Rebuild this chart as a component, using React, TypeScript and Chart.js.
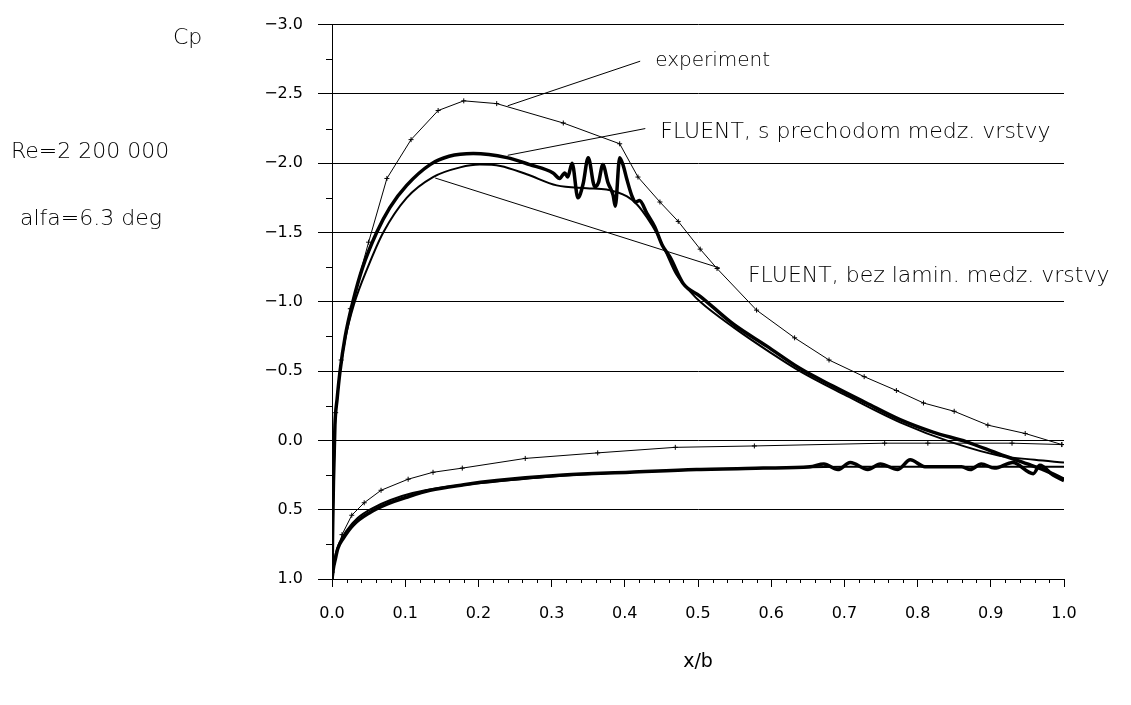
import { useEffect, useRef } from 'react';
import { Chart, registerables } from 'chart.js';

Chart.register(...registerables);

// ---- data (x/b, Cp) ----
const expUpperX = [0.0, 0.005, 0.0125, 0.025, 0.05, 0.075, 0.108, 0.145, 0.18, 0.225, 0.316, 0.393, 0.418, 0.448, 0.473, 0.503, 0.526, 0.58, 0.632, 0.679, 0.727, 0.771, 0.808, 0.85, 0.896, 0.947, 0.997];
const expUpperCp = [0.95, -0.2, -0.58, -0.95, -1.43, -1.89, -2.17, -2.38, -2.45, -2.43, -2.29, -2.14, -1.9, -1.72, -1.58, -1.38, -1.24, -0.94, -0.74, -0.58, -0.46, -0.36, -0.27, -0.21, -0.11, -0.05, 0.03];

const expLowerX = [0.0, 0.0137, 0.027, 0.044, 0.067, 0.104, 0.138, 0.178, 0.264, 0.363, 0.469, 0.577, 0.755, 0.814, 0.929, 0.997];
const expLowerCp = [0.95, 0.68, 0.54, 0.45, 0.36, 0.28, 0.23, 0.2, 0.13, 0.09, 0.05, 0.04, 0.02, 0.02, 0.02, 0.03];

const transUpperX = [0.0, 0.001, 0.002, 0.004, 0.007, 0.011, 0.018, 0.029, 0.042, 0.061, 0.079, 0.102, 0.134, 0.16, 0.193, 0.239, 0.27, 0.302, 0.311, 0.318, 0.322, 0.328, 0.336, 0.343, 0.35, 0.359, 0.364, 0.37, 0.377, 0.384, 0.387, 0.393, 0.398, 0.403, 0.41, 0.415, 0.42, 0.43, 0.441, 0.451, 0.462, 0.48, 0.503, 0.548, 0.594, 0.639, 0.685, 0.73, 0.776, 0.821, 0.867, 0.912, 0.95, 0.98, 1.0];
const transUpperCp = [1.0, 0.6, 0.3, -0.11, -0.3, -0.5, -0.75, -1.01, -1.25, -1.5, -1.68, -1.84, -1.99, -2.05, -2.07, -2.04, -1.99, -1.93, -1.89, -1.93, -1.9, -2.0, -1.75, -1.85, -2.04, -1.83, -1.86, -1.99, -1.86, -1.77, -1.69, -2.04, -1.98, -1.88, -1.76, -1.72, -1.73, -1.64, -1.54, -1.41, -1.32, -1.13, -1.04, -0.84, -0.68, -0.52, -0.39, -0.27, -0.15, -0.06, 0.01, 0.1, 0.17, 0.23, 0.28];

const transLowerX = [0.0, 0.002, 0.004, 0.008, 0.015, 0.029, 0.052, 0.075, 0.102, 0.134, 0.18, 0.225, 0.316, 0.407, 0.498, 0.589, 0.653, 0.672, 0.691, 0.708, 0.732, 0.749, 0.773, 0.79, 0.81, 0.86, 0.872, 0.887, 0.905, 0.93, 0.958, 0.967, 0.985, 1.0];
const transLowerCp = [1.0, 0.92, 0.87, 0.78, 0.71, 0.61, 0.52, 0.46, 0.41, 0.36, 0.32, 0.29, 0.25, 0.23, 0.21, 0.2, 0.19, 0.17, 0.21, 0.16, 0.21, 0.17, 0.21, 0.14, 0.19, 0.19, 0.21, 0.17, 0.2, 0.16, 0.24, 0.18, 0.25, 0.29];

const turbUpperX = [0.0, 0.001, 0.002, 0.004, 0.007, 0.011, 0.018, 0.03, 0.049, 0.07, 0.102, 0.138, 0.175, 0.202, 0.23, 0.266, 0.307, 0.348, 0.375, 0.403, 0.417, 0.43, 0.444, 0.455, 0.47, 0.49, 0.503, 0.55, 0.6, 0.639, 0.7, 0.776, 0.85, 0.912, 0.96, 1.0];
const turbUpperCp = [1.0, 0.6, 0.3, -0.1, -0.3, -0.5, -0.73, -0.98, -1.25, -1.5, -1.75, -1.9, -1.97, -1.99, -1.98, -1.92, -1.84, -1.82, -1.81, -1.76, -1.7, -1.61, -1.49, -1.37, -1.2, -1.07, -1.0, -0.81, -0.63, -0.5, -0.33, -0.13, 0.02, 0.11, 0.14, 0.16];

const turbLowerX = [0.0, 0.002, 0.005, 0.01, 0.02, 0.035, 0.055, 0.08, 0.11, 0.15, 0.2, 0.3, 0.4, 0.5, 0.6, 0.7, 0.8, 0.9, 0.95, 1.0];
const turbLowerCp = [1.0, 0.9, 0.82, 0.74, 0.65, 0.56, 0.49, 0.43, 0.38, 0.34, 0.31, 0.26, 0.23, 0.21, 0.2, 0.19, 0.19, 0.19, 0.19, 0.19];

// leader lines for the annotations
const leaderExpX = [0.24, 0.421];
const leaderExpCp = [-2.414, -2.736];
const leaderTransX = [0.24, 0.428];
const leaderTransCp = [-2.057, -2.25];
const leaderTurbX = [0.141, 0.53];
const leaderTurbCp = [-1.893, -1.243];

const labelExp = 'experiment';
const labelTrans = 'FLUENT, s prechodom medz. vrstvy';
const labelTurb = 'FLUENT, bez lamin. medz. vrstvy';
const yTitle = 'Cp';
const reText = 'Re=2 200 000';
const alfaText = 'alfa=6.3 deg';
const xTitle = 'x/b';

const xMin = 0, xMax = 1, xStep = 0.1, xMinorStep = 0.02;
const yMin = -3, yMax = 1, yStep = 0.5, yMinorStep = 0.25;

const pts = (xs: number[], ys: number[]) => xs.map((x, i) => ({ x, y: ys[i] }));

const FONT = "'DejaVu Sans', 'Liberation Sans', sans-serif";

const decorPlugin = {
  id: 'decor',
  afterDraw(chart: any) {
    const ctx = chart.ctx;
    const xs = chart.scales.x;
    const ys = chart.scales.y;
    const { left, bottom } = chart.chartArea;
    ctx.save();
    ctx.strokeStyle = '#000';
    ctx.lineWidth = 1;
    ctx.beginPath();
    const nx = Math.round((xMax - xMin) / xMinorStep);
    const per = Math.round(xStep / xMinorStep);
    for (let i = 0; i <= nx; i++) {
      if (i % per === 0) continue;
      const px = Math.round(xs.getPixelForValue(xMin + i * xMinorStep)) + 0.5;
      ctx.moveTo(px, bottom);
      ctx.lineTo(px, bottom + 4);
    }
    const ny = Math.round((yMax - yMin) / yMinorStep);
    const pery = Math.round(yStep / yMinorStep);
    for (let i = 0; i <= ny; i++) {
      if (i % pery === 0) continue;
      const py = Math.round(ys.getPixelForValue(yMin + i * yMinorStep)) + 0.5;
      ctx.moveTo(left - 6, py);
      ctx.lineTo(left, py);
    }
    ctx.stroke();

    ctx.fillStyle = '#000';
    ctx.textBaseline = 'middle';
    ctx.textAlign = 'left';
    const endOf = (xa: number[], ya: number[]) => ({
      x: xs.getPixelForValue(xa[xa.length - 1]),
      y: ys.getPixelForValue(ya[ya.length - 1]),
    });
    ctx.font = `200 20px ${FONT}`;
    const e1 = endOf(leaderExpX, leaderExpCp);
    ctx.fillText(labelExp, e1.x + 15, e1.y);
    ctx.font = `200 22px ${FONT}`;
    const e2 = endOf(leaderTransX, leaderTransCp);
    ctx.fillText(labelTrans, e2.x + 15, e2.y + 4);
    const e3 = endOf(leaderTurbX, leaderTurbCp);
    ctx.fillText(labelTurb, e3.x + 28, e3.y + 8);

    ctx.font = `200 22px ${FONT}`;
    ctx.fillText(yTitle, 173, 38);
    ctx.fillText(reText, 11, 152);
    ctx.fillText(alfaText, 20, 219);
    ctx.restore();
  },
};

export default function App() {
  const ref = useRef<HTMLCanvasElement | null>(null);
  useEffect(() => {
    if (!ref.current) return;
    const line = (data: any, width: number, extra: any = {}) => ({
      data,
      borderColor: '#000',
      backgroundColor: '#000',
      borderWidth: width,
      showLine: true,
      pointRadius: 0,
      tension: 0,
      ...extra,
    });
    const smooth = { cubicInterpolationMode: 'monotone' };
    const marks = { pointRadius: 2.5, pointStyle: 'cross', pointBorderWidth: 1, pointBorderColor: '#000' };
    const chart = new Chart(ref.current, {
      type: 'scatter',
      data: {
        datasets: [
          line(pts(expUpperX, expUpperCp), 1, marks),
          line(pts(expLowerX, expLowerCp), 1, marks),
          line(pts(transUpperX, transUpperCp), 3.5, smooth),
          line(pts(transLowerX, transLowerCp), 3.5, smooth),
          line(pts(turbUpperX, turbUpperCp), 2, smooth),
          line(pts(turbLowerX, turbLowerCp), 2, smooth),
          line(pts(leaderExpX, leaderExpCp), 1),
          line(pts(leaderTransX, leaderTransCp), 1),
          line(pts(leaderTurbX, leaderTurbCp), 1),
        ] as any,
      },
      options: {
        animation: false,
        responsive: true,
        maintainAspectRatio: false,
        layout: { padding: { top: 18, right: 67, left: 0, bottom: 0 } },
        plugins: { legend: { display: false }, tooltip: { enabled: false } },
        scales: {
          x: {
            type: 'linear',
            min: xMin,
            max: xMax,
            afterFit: (s: any) => { s.height = 126; },
            ticks: {
              stepSize: xStep,
              padding: 17,
              color: '#000',
              font: { family: FONT, size: 16 },
              callback: (v: any) => Number(v).toFixed(1),
              autoSkip: false,
              maxRotation: 0,
            },
            grid: { drawOnChartArea: false, drawTicks: true, tickLength: 8, color: '#000', tickColor: '#000' },
            border: { display: true, color: '#000', width: 1 },
            title: { display: true, text: xTitle, color: '#000', font: { family: FONT, size: 19 }, padding: { top: 0, bottom: 32 } },
          },
          y: {
            type: 'linear',
            reverse: true,
            min: yMin,
            max: yMax,
            afterFit: (s: any) => { s.width = 332; },
            ticks: {
              stepSize: yStep,
              padding: 15,
              color: '#000',
              font: { family: FONT, size: 16 },
              callback: (v: any) => {
                const n = Number(v);
                const s = Math.abs(n).toFixed(1);
                return n < -1e-9 ? '\u2212' + s : s;
              },
            },
            grid: { drawTicks: true, tickLength: 14, color: '#000', tickColor: '#000', lineWidth: 1 },
            border: { display: true, color: '#000', width: 1 },
          },
        },
      } as any,
      plugins: [decorPlugin],
    });
    return () => chart.destroy();
  }, []);
  return (
    <div style={{ position: 'fixed', left: 0, top: 0, width: 1131, height: 705, background: '#fff' }}>
      <canvas ref={ref} />
    </div>
  );
}
